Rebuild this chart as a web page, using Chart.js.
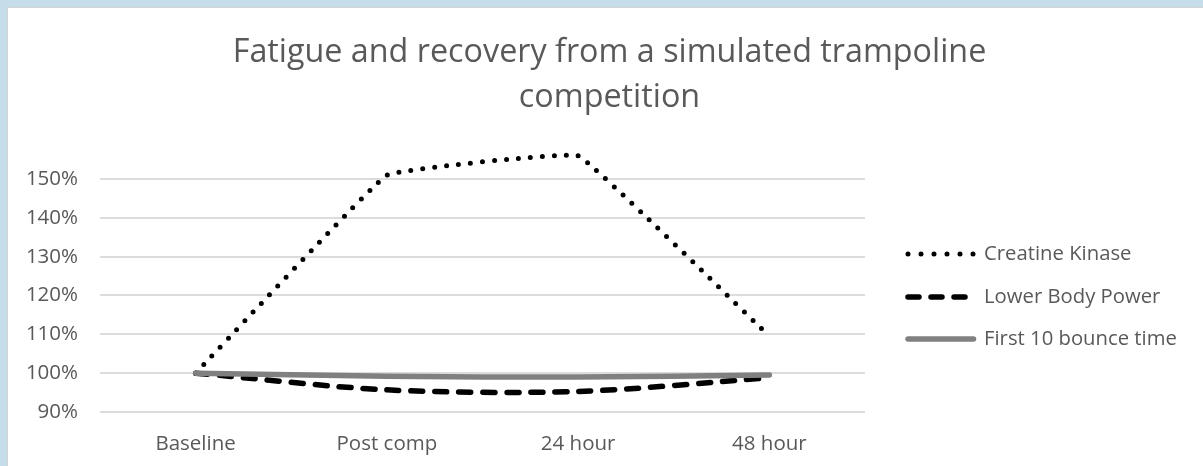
<!DOCTYPE html>
<html lang="en">
  <head>
    <meta charset="UTF-8" />
    <title>Fatigue and recovery</title>
    <script src="https://cdn.jsdelivr.net/npm/chart.js"></script>
    <style>
      body { margin: 0; background: #c5dde8; width: 1203px; height: 466px; overflow: hidden; }
      .frame { position: absolute; left: 7px; top: 7px; width: 1196px; height: 459px; background: #fff; border-left: 1px solid #d3d3d3; border-top: 1px solid #d3d3d3; }
      #chart { position: absolute; left: 0; top: 0; }
    </style>
  </head>
  <body>
    <div class="frame"></div>
    <canvas id="chart" width="1203" height="466"></canvas>

    <script>
      const moments = ['Baseline', 'Post comp', '24 hour', '48 hour'];
      const creatineKinase = [100, 151, 156, 109.5];
      const lowerBodyPower = [100, 95.7, 95.3, 98.8];
      const bounceTime = [100, 99.2, 99.0, 99.5];
      const seriesNames = ['Creatine Kinase', 'Lower Body Power', 'First 10 bounce time'];

      const textColor = '#595959';

      // legend drawn by hand so the line samples keep their dash styles
      const legendLines = {
        id: 'legendLines',
        afterDraw(chart) {
          const ctx = chart.ctx;
          const rows = [254, 297, 339];
          chart.data.datasets.forEach((ds, i) => {
            const y = rows[i];
            ctx.save();
            ctx.strokeStyle = ds.borderColor;
            ctx.lineWidth = ds.borderWidth;
            ctx.lineCap = ds.borderCapStyle;
            ctx.setLineDash(ds.legendDash || []);
            ctx.beginPath();
            ctx.moveTo(908, y);
            ctx.lineTo(973.5, y);
            ctx.stroke();
            ctx.restore();

            ctx.save();
            ctx.fillStyle = textColor;
            ctx.font = '20.3px "Open Sans"';
            ctx.textBaseline = 'middle';
            ctx.fillText(ds.label, 984, y);
            ctx.restore();
          });
        },
      };

      new Chart(document.getElementById('chart'), {
        type: 'line',
        data: {
          labels: moments,
          datasets: [
            {
              label: seriesNames[0],
              data: creatineKinase,
              borderColor: '#000',
              borderWidth: 5,
              borderDash: [0, 12],
              legendDash: [0, 13],
              borderCapStyle: 'round',
              tension: 0.06,
              pointRadius: 0,
              clip: false,
              order: 3,
            },
            {
              label: seriesNames[1],
              data: lowerBodyPower,
              borderColor: '#000',
              borderWidth: 5.5,
              borderDash: [12, 12],
              legendDash: [11, 12],
              borderCapStyle: 'round',
              tension: 0.3,
              pointRadius: 0,
              clip: false,
              order: 2,
            },
            {
              label: seriesNames[2],
              data: bounceTime,
              borderColor: '#808080',
              borderWidth: 5.5,
              borderCapStyle: 'round',
              tension: 0.3,
              pointRadius: 0,
              clip: false,
              order: 1,
            },
          ],
        },
        options: {
          responsive: false,
          animation: false,
          layout: { padding: { left: 16, right: 0, top: 0, bottom: 0 } },
          plugins: {
            legend: { display: false },
            tooltip: { enabled: false },
            title: {
              display: true,
              text: ['Fatigue and recovery from a simulated trampoline', 'competition'],
              color: textColor,
              font: { family: '"Open Sans"', size: 32.3, weight: 'normal', lineHeight: 1.393 },
              padding: { top: 30.5, bottom: 58.5 },
            },
          },
          scales: {
            x: {
              offset: true,
              grid: { display: false, drawTicks: false },
              border: { display: false },
              ticks: { color: textColor, font: { family: '"Open Sans"', size: 20.5 }, padding: 20 },
              afterFit(s) { s.height = 54; },
            },
            y: {
              min: 90,
              max: 150,
              ticks: {
                stepSize: 10,
                color: textColor,
                font: { family: '"Open Sans"', size: 20.5 },
                padding: 22,
                callback: (v) => v + '%',
              },
              grid: { color: '#dcdcdc', lineWidth: 2, drawTicks: false },
              border: { display: false },
              afterFit(s) { s.width = 84; },
            },
            legendSpace: {
              type: 'linear',
              position: 'right',
              grid: { display: false, drawTicks: false },
              border: { display: false },
              ticks: { display: false },
              afterFit(s) { s.width = 338; },
            },
          },
        },
        plugins: [legendLines],
      });
    </script>
  </body>
</html>
